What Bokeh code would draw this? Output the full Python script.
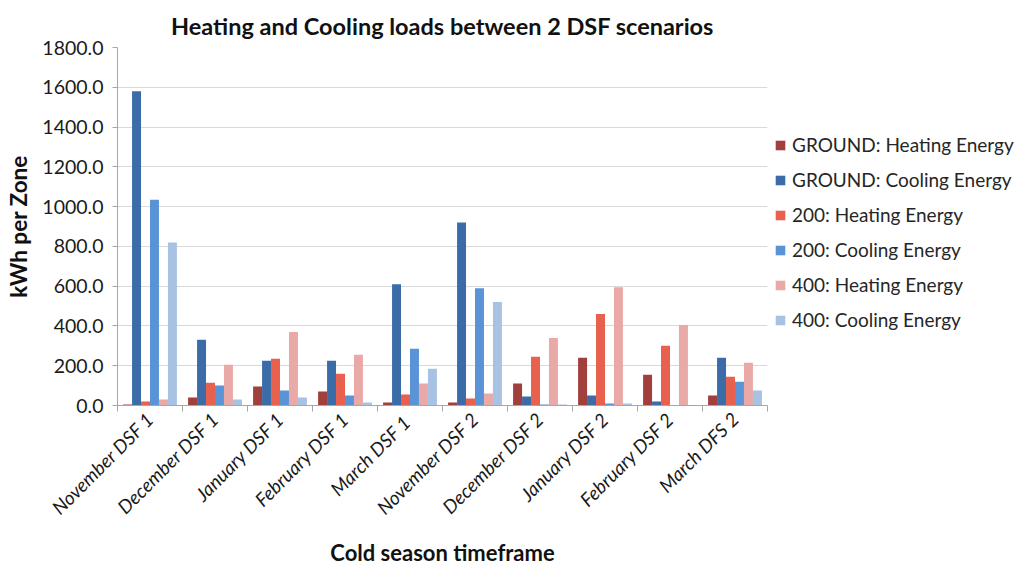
from bokeh.plotting import figure
from bokeh.models import ColumnDataSource, Legend, LegendItem, FixedTicker, Range1d, NumeralTickFormatter
from bokeh.embed import file_html
from bokeh.resources import INLINE
import math

categories = ["November DSF 1", "December DSF 1", "January DSF 1", "February DSF 1", "March  DSF 1",
              "November DSF 2", "December DSF 2", "January DSF 2", "February DSF 2", "March DFS 2"]
series_names = ["GROUND: Heating Energy", "GROUND: Cooling Energy", "200: Heating Energy",
                "200: Cooling Energy", "400: Heating Energy", "400: Cooling Energy"]
ground_heating = [5, 40, 95, 70, 15, 15, 110, 240, 155, 50]
ground_cooling = [1580, 330, 225, 225, 610, 920, 45, 50, 20, 240]
h200_heating = [20, 115, 235, 160, 55, 35, 245, 460, 300, 145]
h200_cooling = [1035, 100, 75, 50, 285, 590, 5, 10, 2, 120]
h400_heating = [30, 205, 370, 255, 110, 60, 340, 595, 405, 215]
h400_cooling = [820, 30, 40, 15, 185, 520, 5, 10, 2, 75]
y_ticks = [0, 200, 400, 600, 800, 1000, 1200, 1400, 1600, 1800]

series_values = [ground_heating, ground_cooling, h200_heating, h200_cooling, h400_heating, h400_cooling]
colors = ["#A03F3B", "#3B6CA7", "#E8604E", "#5A93D6", "#E9A9A6", "#A7C2E3"]

FONT = "Lato"

p = figure(frame_width=650, frame_height=358, output_backend="svg", toolbar_location=None,
           x_range=Range1d(0, len(categories)), y_range=Range1d(0, 1800),
           min_border_left=117, min_border_right=235, min_border_top=47, min_border_bottom=164)

bar_w = 0.138
items = []
for k, (name, vals, col) in enumerate(zip(series_names, series_values, colors)):
    off = (k - 2.5) * bar_w
    src = ColumnDataSource(dict(x=[i + 0.5 + off for i in range(len(categories))], top=vals))
    r = p.vbar(x="x", top="top", width=bar_w, source=src, fill_color=col, line_color=None)
    items.append(LegendItem(label=name, renderers=[r]))

legend = Legend(items=items, location=(7, 74), label_text_font=FONT, label_text_font_size="19px",
                label_text_color="#262626", glyph_width=12, glyph_height=12, label_height=22, spacing=12,
                padding=0, margin=0, border_line_color=None, background_fill_alpha=0, label_standoff=6)
p.add_layout(legend, "right")

p.title.text = "Heating and Cooling loads between 2 DSF scenarios"
p.title.align = "center"
p.title.text_font = FONT
p.title.text_font_size = "23.5px"
p.title.text_font_style = "bold"
p.title.text_color = "#111111"
p.title.standoff = 16

p.outline_line_color = None
p.xgrid.grid_line_color = None
p.ygrid.grid_line_color = "#D9D9D9"
p.ygrid.ticker = FixedTicker(ticks=y_ticks)

p.yaxis.ticker = FixedTicker(ticks=y_ticks)
p.yaxis.formatter = NumeralTickFormatter(format="0.0")
p.yaxis.axis_label = "kWh per Zone"
for ax in (p.xaxis[0], p.yaxis[0]):
    ax.axis_line_color = "#A6A6A6"
    ax.major_label_text_font = FONT
    ax.major_label_text_color = "#1A1A1A"
    ax.axis_label_text_font = FONT
    ax.axis_label_text_font_style = "bold"
    ax.axis_label_text_color = "#111111"
p.yaxis.major_label_text_font_size = "19.5px"
p.yaxis.axis_label_text_font_size = "22.5px"
p.yaxis.major_tick_line_color = "#A6A6A6"
p.yaxis.major_tick_out = 5
p.yaxis.major_tick_in = 0
p.yaxis.minor_tick_line_color = None
p.yaxis.major_label_standoff = 9
p.yaxis.axis_label_standoff = 7

p.xaxis.ticker = FixedTicker(ticks=[i + 0.5 for i in range(len(categories))],
                             minor_ticks=list(range(len(categories) + 1)))
p.xaxis.major_label_overrides = {i + 0.5: c for i, c in enumerate(categories)}
p.xaxis.major_label_orientation = math.pi / 4
p.xaxis.major_label_text_font_style = "italic"
p.xaxis.major_label_text_font_size = "19px"
p.xaxis.axis_label_text_font_size = "22px"
p.xaxis.major_tick_line_color = None
p.xaxis.minor_tick_line_color = "#A6A6A6"
p.xaxis.minor_tick_out = 6
p.xaxis.minor_tick_in = 0
p.xaxis.major_label_standoff = 4
p.xaxis.axis_label = "Cold season timeframe"
p.xaxis.axis_label_standoff = 9

open("out.html", "w").write(file_html(p, INLINE))
